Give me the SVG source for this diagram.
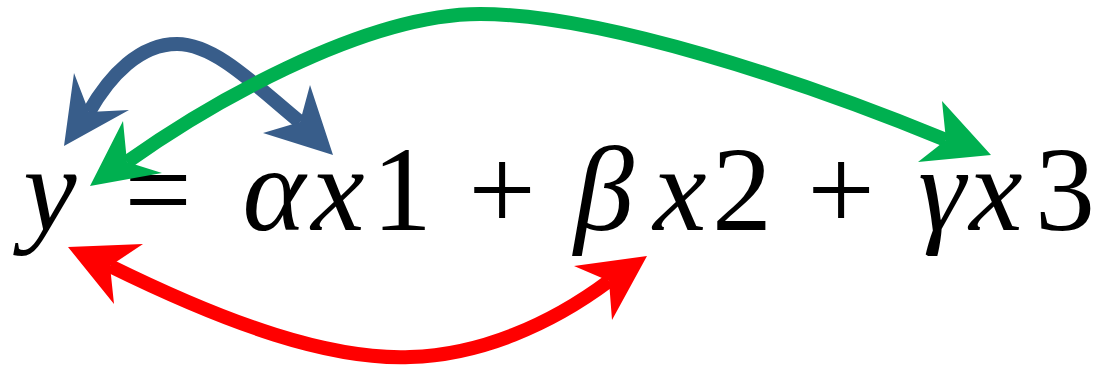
<svg xmlns="http://www.w3.org/2000/svg" width="1098" height="366" viewBox="0 0 1098 366">
<style>
  .eq { font-family: 'Liberation Serif', 'DejaVu Serif', serif; font-size: 120px; fill: #000; text-anchor: middle; }
  .v { font-style: italic; }
  .shaft { fill: none; stroke-width: 14; stroke-linecap: butt; }
  .blue .shaft { stroke: #385D8A; }
  .blue polygon { fill: #385D8A; }
  .green .shaft { stroke: #00B050; }
  .green polygon { fill: #00B050; }
  .red .shaft { stroke: #FF0000; }
  .red polygon { fill: #FF0000; }
</style>
<rect width="1098" height="366" fill="#fff"/>
<g id="equation">
  <text class="eq v" x="50" y="230">y</text>
  <text class="eq" x="158" y="230">=</text>
  <text class="eq v" x="274" y="230">α</text>
  <text class="eq v" x="338" y="230">x</text>
  <text class="eq" x="402" y="230">1</text>
  <text class="eq" x="502" y="230">+</text>
  <text class="eq v" x="604" y="230">β</text>
  <text class="eq v" x="680" y="230">x</text>
  <text class="eq" x="742" y="230">2</text>
  <text class="eq" x="841" y="230">+</text>
  <text class="eq v" x="942" y="230">γ</text>
  <text class="eq v" x="996" y="230">x</text>
  <text class="eq" x="1065" y="230">3</text>
</g>
<g id="connectors">
  <g id="arrow-alpha" class="blue">
    <path class="shaft" d="M89,112 C110,75 140,44 177,44 C215,44 255,85 300,122"/>
    <polygon points="64,146 74,73 89,112 129,110"/>
    <polygon points="333,155 310,85 300,122 263,133"/>
  </g>
  <g id="arrow-gamma" class="green">
    <path class="shaft" d="M127,162 C200,110 360,14 480,14 C600,14 800,80 946,140"/>
    <polygon points="90,186 123,121 127,162 162,173"/>
    <polygon points="991,155 942,101 946,140 918,162"/>
  </g>
  <g id="arrow-beta" class="red">
    <path class="shaft" d="M110,266 C230,325 330,360 410,357 C480,355 550,325 609,281"/>
    <polygon points="68,247 143,244 110,266 114,304"/>
    <polygon points="647,256 574,266 609,281 612,320"/>
  </g>
</g>
</svg>
